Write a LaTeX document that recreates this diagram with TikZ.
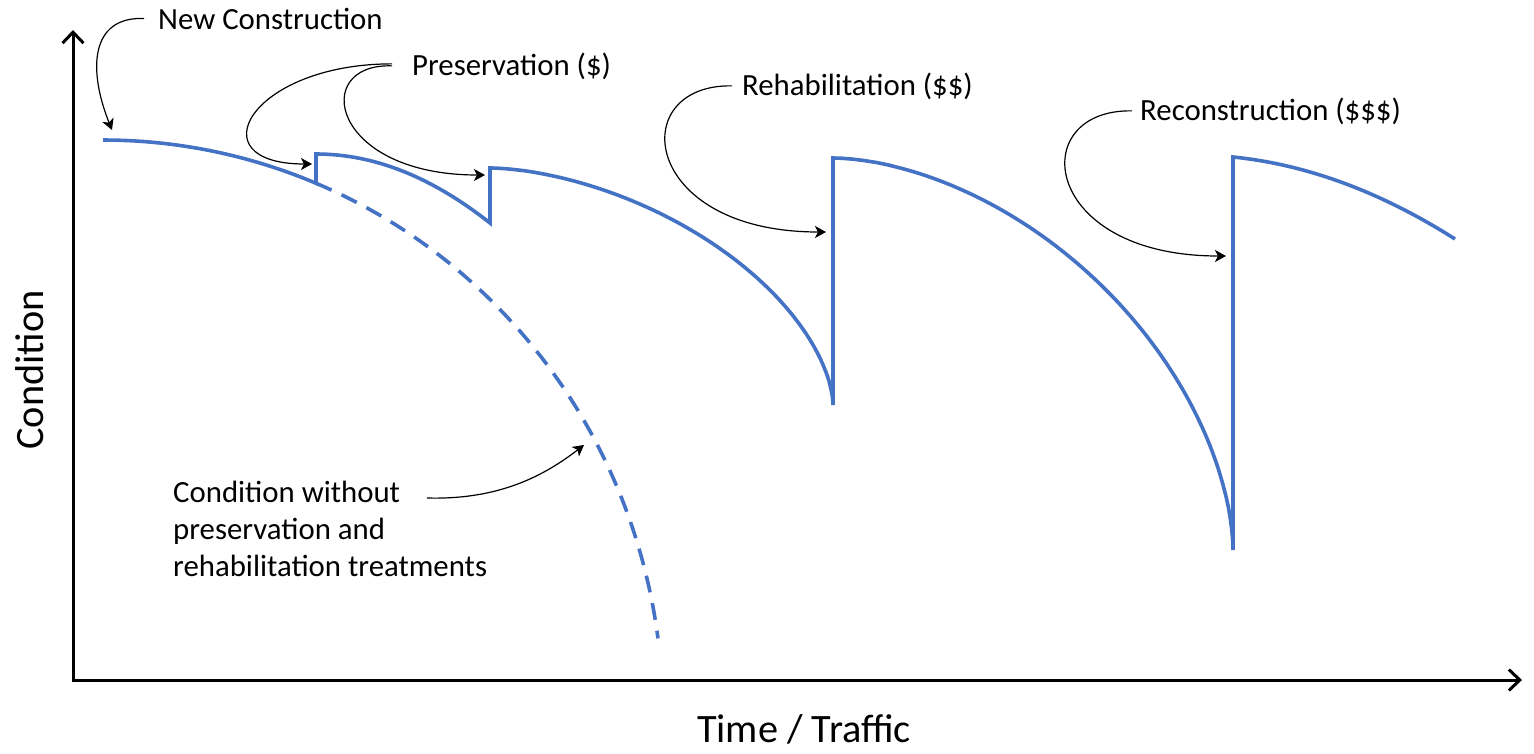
\documentclass[tikz,border=0pt]{standalone}
\usepackage{fontspec}
\setmainfont{Carlito}
\usetikzlibrary{arrows.meta}
\definecolor{curveblue}{HTML}{4472C4}
\begin{document}
\begin{tikzpicture}[x=1pt,y=-1pt,
  curve/.style={curveblue, line width=3.6pt, line join=miter},
  nocare/.style={curveblue, line width=3.6pt, dash pattern=on 17pt off 11pt},
  axisline/.style={line width=3pt, line join=miter,
    {Straight Barb[length=11pt,width=21pt]}-{Straight Barb[length=11pt,width=21pt]}},
  callout/.style={line width=1.2pt, -{Stealth[length=11pt,width=12pt,inset=3pt]}},
  lbl/.style={font=\fontsize{30.8}{36.7}\selectfont, inner sep=0pt, anchor=base west},
  axtitle/.style={font=\fontsize{40.3}{48}\selectfont, inner sep=0pt}]
\useasboundingbox (0,0) rectangle (1534,753);

% axes
\coordinate (ytop) at (73,30);
\coordinate (O) at (73,680);
\coordinate (xend) at (1522,680);
\draw[axisline] (ytop) -- (O) -- (xend);
\node[axtitle, rotate=90] (ylab) at (30,370) {Condition};
\node[axtitle] (xlab) at (804,729) {Time / Traffic};

% condition curve (segments joined by vertical jumps)
\draw[curve]
  plot[domain=89.99:67.64, samples=40, variable=\t] ({103+560*cos(\t)}, {715-575*sin(\t)})
  -- (316,154) .. controls (374.3,154) and (431.7,177) .. (490,223)
  -- plot[domain=89.99:0.01, samples=90, variable=\t] ({490+343*pow(cos(\t),1.1765)}, {405-237*pow(sin(\t),1.1765)})
  -- plot[domain=89.99:0.01, samples=90, variable=\t] ({833+400*pow(cos(\t),1.1429)}, {550-392*pow(sin(\t),1.1429)})
  -- (1233,157) .. controls (1307,164.5) and (1381,192) .. (1455,239);

% condition without treatments
\draw[nocare] plot[domain=67.64:7.66, samples=80, variable=\t] ({103+560*cos(\t)}, {715-575*sin(\t)});

% labels
\node[lbl] (nc) at (158,29) {New Construction};
\node[lbl] (pres) at (412,75) {Preservation (\$)};
\node[lbl] (rehab) at (742,95) {Rehabilitation (\$\$)};
\node[lbl] (recon) at (1140,120) {Reconstruction (\$\$\$)};
\node[lbl, align=left, anchor=west] (cw) at (173,529) {Condition without\\preservation and\\rehabilitation treatments};

% callout targets
\coordinate (tipNC) at (112,130);
\coordinate (tipP1) at (312,164);
\coordinate (tipP2) at (485,175);
\coordinate (tipRh) at (826,232);
\coordinate (tipRc) at (1226,256);
\coordinate (tipCW) at (584,445);
\coordinate (cwstart) at (427,498);

% callouts
\draw[callout] ([xshift=-14pt]nc.west) .. controls +(-54,-2) and +(-24,-60) .. (tipNC);
\draw[callout] ([xshift=-20pt,yshift=2pt]pres.west) .. controls +(-142,0) and +(-117,0) .. (tipP1);
\draw[callout] ([xshift=-20pt]pres.west) .. controls +(-82,-3) and +(-155,0) .. (tipP2);
\draw[callout] ([xshift=-10pt]rehab.west) .. controls +(-107,-2) and +(-186,0) .. (tipRh);
\draw[callout] ([xshift=-8pt]recon.west) .. controls +(-107,-2) and +(-186,0) .. (tipRc);
\draw[callout] (cwstart) .. controls +(73,2) and +(-39,30) .. (tipCW);
\end{tikzpicture}
\end{document}
